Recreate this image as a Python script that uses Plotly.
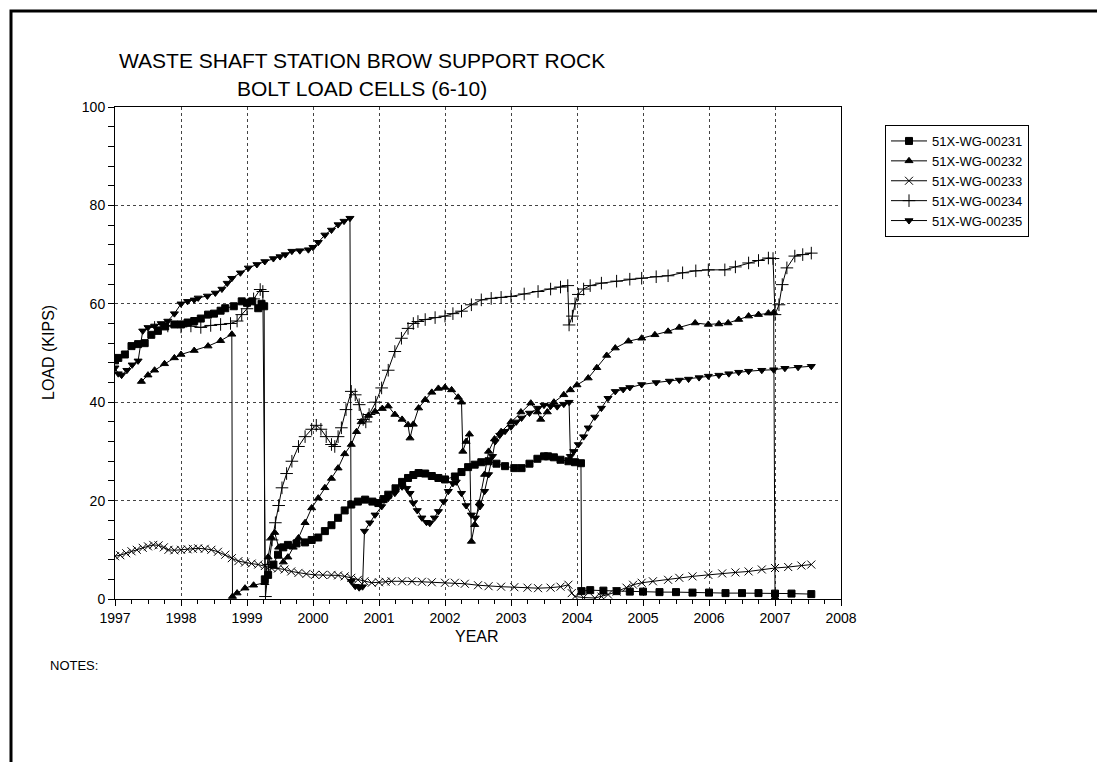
import plotly.graph_objects as go

# ---- data (decimal year, load in kips) ----
names = ["51X-WG-00231", "51X-WG-00232", "51X-WG-00233", "51X-WG-00234", "51X-WG-00235"]

s231 = [(1997.0,48.5),(1997.05,49),(1997.15,49.7),(1997.25,51.4),(1997.35,51.8),(1997.45,52),(1997.55,53.7),
        (1997.65,54.5),(1997.76,55.4),(1997.9,55.8),(1998.0,55.8),(1998.1,56.2),(1998.2,56.5),(1998.3,57),
        (1998.41,57.8),(1998.5,58),(1998.6,58.6),(1998.67,59.1),(1998.8,59.5),(1998.92,60.5),(1999.0,60.2),
        (1999.08,60.5),(1999.17,59.1),(1999.22,60),(1999.26,59.5),(1999.27,4),(1999.32,4.9),(1999.4,7),
        (1999.47,9),(1999.55,10.5),(1999.62,11),(1999.75,11.3),(1999.88,11.5),(1999.98,12),(2000.08,12.5),
        (2000.18,13.8),(2000.28,15),(2000.38,16.5),(2000.48,18),(2000.58,19.2),(2000.68,19.8),(2000.79,20.2),
        (2000.9,19.8),(2000.99,19.5),(2001.07,20.3),(2001.14,21.2),(2001.25,22.5),(2001.35,23.8),(2001.44,24.6),
        (2001.52,25.2),(2001.6,25.6),(2001.7,25.5),(2001.8,25),(2001.9,24.6),(2002.0,24.3),(2002.15,24.9),
        (2002.25,25.8),(2002.35,26.8),(2002.45,27.3),(2002.55,27.8),(2002.66,28),(2002.78,27.5),(2002.91,27),
        (2003.05,26.6),(2003.16,26.6),(2003.28,27.5),(2003.4,28.5),(2003.5,29),(2003.56,29),(2003.65,28.8),
        (2003.75,28.3),(2003.87,28),(2003.97,27.8),(2004.06,27.6),(2004.07,1.6),(2004.2,1.8),(2004.4,1.7),
        (2004.6,1.6),(2004.8,1.5),(2005.0,1.5),(2005.25,1.4),(2005.5,1.4),(2005.75,1.3),(2006.0,1.3),
        (2006.25,1.2),(2006.5,1.2),(2006.75,1.2),(2007.0,1.1),(2007.25,1.1),(2007.55,1.0)]

s232 = [(1997.4,44.2),(1997.5,45.5),(1997.6,46.5),(1997.75,47.8),(1997.9,49),(1998.0,49.7),(1998.2,50.5),
        (1998.41,51.4),(1998.6,52.5),(1998.77,53.8),(1998.78,0.5),(1998.85,1.2),(1998.97,2.2),(1999.1,2.8),
        (1999.27,3.3),(1999.32,8.5),(1999.37,12.5),(1999.42,13.5),(1999.48,10.5),(1999.55,7.5),(1999.62,8.5),
        (1999.7,10.5),(1999.78,12.4),(1999.88,15.5),(1999.98,18.5),(2000.08,20.5),(2000.18,22.6),(2000.28,24.5),
        (2000.38,26.6),(2000.48,29.5),(2000.58,31.4),(2000.66,34),(2000.73,36),(2000.84,37.3),(2000.94,38.1),
        (2001.05,38.7),(2001.14,39.2),(2001.24,37.5),(2001.35,36.5),(2001.44,35.4),(2001.47,32.7),(2001.52,35.5),
        (2001.6,38.8),(2001.7,40.5),(2001.8,42),(2001.9,42.8),(2002.0,43),(2002.1,42.5),(2002.2,41),
        (2002.25,40),(2002.27,30),(2002.32,32),(2002.37,33.5),(2002.4,11.7),(2002.45,15.1),(2002.52,19.5),
        (2002.6,25.3),(2002.66,30),(2002.75,32.5),(2002.85,34),(2003.0,36),(2003.15,38),(2003.3,39.8),
        (2003.4,38),(2003.45,36.5),(2003.55,38),(2003.65,40),(2003.8,41.5),(2003.9,42.5),(2004.0,43.5),
        (2004.17,44.9),(2004.3,47),(2004.45,49.5),(2004.58,51),(2004.78,52.4),(2004.98,53),(2005.18,53.7),
        (2005.38,54.4),(2005.55,55.2),(2005.79,56.1),(2005.99,55.8),(2006.15,55.9),(2006.29,56.1),(2006.45,56.8),
        (2006.6,57.5),(2006.75,57.8),(2006.9,58.1),(2006.98,58.2),(2007.0,0.3)]

s233 = [(1997.0,8.7),(1997.08,8.9),(1997.17,9.3),(1997.25,9.7),(1997.33,10),(1997.42,10.4),(1997.5,10.7),
        (1997.58,11),(1997.66,10.9),(1997.74,10.5),(1997.81,10),(1997.9,9.9),(1998.0,10),(1998.1,10.1),
        (1998.18,10.2),(1998.26,10.3),(1998.36,10.2),(1998.46,10),(1998.56,9.6),(1998.67,9),(1998.77,8.3),
        (1998.87,7.7),(1998.97,7.4),(1999.07,7.2),(1999.17,7),(1999.27,6.7),(1999.37,6.3),(1999.47,6.2),
        (1999.57,6),(1999.67,5.6),(1999.78,5.3),(1999.9,5.1),(2000.03,4.9),(2000.15,4.9),(2000.28,4.9),
        (2000.38,4.8),(2000.48,4.6),(2000.58,4.3),(2000.68,3.9),(2000.78,3.6),(2000.89,3.3),(2001.0,3.4),
        (2001.1,3.5),(2001.19,3.6),(2001.35,3.6),(2001.5,3.6),(2001.65,3.5),(2001.8,3.4),(2002.0,3.3),
        (2002.15,3.3),(2002.3,3.1),(2002.5,2.8),(2002.66,2.6),(2002.85,2.5),(2003.05,2.4),(2003.25,2.3),
        (2003.41,2.2),(2003.6,2.3),(2003.75,2.5),(2003.87,2.9),(2003.92,1.2),(2003.97,0.5),(2004.1,0.3),
        (2004.27,0.2),(2004.37,0.5),(2004.47,0.9),(2004.6,1.5),(2004.75,2.3),(2004.85,2.9),(2004.98,3.3),
        (2005.15,3.6),(2005.38,3.9),(2005.55,4.3),(2005.75,4.6),(2005.99,4.9),(2006.2,5.2),(2006.4,5.4),
        (2006.6,5.6),(2006.8,6),(2007.0,6.3),(2007.2,6.5),(2007.4,6.8),(2007.55,7.0)]

s234 = [(1997.6,55.2),(1997.8,55.5),(1998.0,55.3),(1998.15,55.5),(1998.3,55.2),(1998.45,55.6),(1998.6,55.8),
        (1998.75,56),(1998.85,56.5),(1998.92,57.8),(1999.0,59),(1999.1,61),(1999.2,62.9),(1999.24,62.5),
        (1999.28,0.5),(1999.33,7),(1999.38,12),(1999.43,15.5),(1999.48,19),(1999.53,22.6),(1999.6,25.5),
        (1999.68,28),(1999.78,31),(1999.88,33),(1999.98,34.5),(2000.05,35.3),(2000.12,34.5),(2000.2,33),
        (2000.28,31.4),(2000.33,31),(2000.38,33),(2000.43,34.8),(2000.5,38.5),(2000.58,42.2),(2000.64,41.5),
        (2000.7,39.5),(2000.76,36.5),(2000.8,36),(2000.85,37.5),(2000.95,40),(2001.04,42.9),(2001.14,46.5),
        (2001.24,50.3),(2001.34,53),(2001.44,55),(2001.52,56),(2001.59,56.4),(2001.7,56.8),(2001.85,57.2),
        (2002.0,57.5),(2002.12,58),(2002.25,58.5),(2002.4,59.8),(2002.55,60.8),(2002.7,61.1),(2002.85,61.3),
        (2003.0,61.5),(2003.2,62),(2003.41,62.5),(2003.6,63),(2003.75,63.4),(2003.86,63.7),(2003.88,55.7),
        (2003.93,57.5),(2003.97,60),(2004.02,61.9),(2004.1,63),(2004.2,63.7),(2004.37,64.2),(2004.6,64.6),
        (2004.8,65),(2004.98,65.2),(2005.2,65.5),(2005.38,65.7),(2005.6,66.3),(2005.8,66.7),(2005.99,66.9),
        (2006.24,66.9),(2006.4,67.5),(2006.6,68.3),(2006.75,68.8),(2006.9,69.3),(2006.97,69.2),(2007.0,57.8),
        (2007.06,59.8),(2007.11,63.9),(2007.18,67.3),(2007.3,69.7),(2007.42,70),(2007.55,70.3)]

s235 = [(1997.0,47),(1997.05,45.8),(1997.1,45.5),(1997.18,46.5),(1997.26,47.6),(1997.35,48.4),(1997.42,54.5),
        (1997.5,55.2),(1997.6,55.5),(1997.7,56),(1997.8,56.5),(1997.9,58),(1998.0,60),(1998.1,60.5),
        (1998.2,60.8),(1998.26,61.2),(1998.4,61.6),(1998.52,62.2),(1998.62,63),(1998.7,64.2),(1998.77,65.2),
        (1998.9,66.3),(1999.02,67.3),(1999.15,68),(1999.27,68.6),(1999.4,69.2),(1999.5,69.6),(1999.58,70),
        (1999.68,70.7),(1999.8,70.8),(1999.93,71),(2000.0,71.5),(2000.08,72.5),(2000.18,74),(2000.28,75),
        (2000.38,76.1),(2000.47,76.8),(2000.56,77.4),(2000.58,3.6),(2000.64,2.6),(2000.7,2.3),(2000.75,2.5),
        (2000.78,13.8),(2000.86,15.5),(2000.94,17.1),(2001.04,18.8),(2001.14,20.5),(2001.24,21.5),(2001.35,22.8),
        (2001.42,22.5),(2001.47,21.5),(2001.52,19.5),(2001.58,18),(2001.65,16.5),(2001.72,15.6),(2001.77,15.4),
        (2001.84,16.5),(2001.9,17.8),(2001.98,19.8),(2002.05,21.9),(2002.12,23.5),(2002.17,23.8),(2002.25,21.5),
        (2002.32,19),(2002.4,17.1),(2002.46,16.5),(2002.53,18.8),(2002.6,21.9),(2002.66,25.3),(2002.72,29),
        (2002.76,32),(2002.83,33.3),(2002.91,34.1),(2003.0,35),(2003.08,36),(2003.16,36.8),(2003.28,37.8),
        (2003.41,38.8),(2003.5,39.4),(2003.6,39.2),(2003.7,39.1),(2003.8,39.6),(2003.88,40),(2003.9,29),
        (2003.95,30),(2004.02,31.4),(2004.1,33),(2004.17,34.8),(2004.27,37),(2004.37,38.8),(2004.47,40.8),
        (2004.58,42.2),(2004.7,42.6),(2004.8,43),(2004.98,43.6),(2005.2,44),(2005.4,44.3),(2005.55,44.5),
        (2005.69,44.7),(2005.85,45),(2005.99,45.3),(2006.15,45.5),(2006.3,45.8),(2006.45,46.1),(2006.6,46.3),
        (2006.8,46.5),(2006.98,46.6),(2007.15,46.9),(2007.35,47.1),(2007.55,47.3)]

series = [s231, s232, s233, s234, s235]
symbols = ["square", "triangle-up", "x-thin-open", "cross-thin-open", "triangle-down"]
msizes = [7, 7, 8, 9, 7]

title_lines = ["WASTE SHAFT STATION BROW SUPPORT ROCK", "BOLT LOAD CELLS (6-10)"]
x_title = "YEAR"
y_title = "LOAD (KIPS)"
notes = "NOTES:"

# ---- layout geometry (pixels) ----
W, H = 1105, 762
L, R, T, B = 107, 833, 99, 591
pw, ph = R - L, B - T
px = lambda x: (x - L) / pw
py = lambda y: (B - y) / ph
FONT = "Liberation Sans, Arial, sans-serif"

fig = go.Figure()
for nm, s, sym, ms in zip(names, series, symbols, msizes):
    fig.add_trace(go.Scatter(
        x=[p[0] for p in s], y=[p[1] for p in s], name=nm, mode="lines+markers",
        line=dict(color="black", width=1),
        marker=dict(symbol=sym, size=ms, color="black", line=dict(color="black", width=1)),
    ))

axis_common = dict(showline=True, linecolor="black", linewidth=1, mirror=True,
                   showgrid=True, gridcolor="#444444", griddash="dot", gridwidth=1,
                   ticks="outside", tickcolor="black", zeroline=False,
                   tickfont=dict(family=FONT, size=14, color="black"))

fig.update_layout(
    width=W, height=H, paper_bgcolor="white", plot_bgcolor="white",
    margin=dict(l=L, r=W - R, t=T, b=H - B, pad=0),
    font=dict(family=FONT, color="black"),
    xaxis=dict(range=[1997, 2008], tick0=1997, dtick=1, ticklen=6,
               minor=dict(dtick=0.25, ticks="outside", ticklen=4, tickcolor="black", showgrid=False),
               **axis_common),
    yaxis=dict(range=[0, 100], tick0=0, dtick=20, ticklen=6,
               minor=dict(dtick=4, ticks="outside", ticklen=6, tickcolor="black", showgrid=False),
               **axis_common),
    showlegend=True,
    legend=dict(x=px(877), y=py(117), xanchor="left", yanchor="top",
                bgcolor="white", bordercolor="black", borderwidth=1,
                font=dict(family=FONT, size=13, color="black"), tracegroupgap=0,
                itemwidth=36),
)

ann = [
    dict(text=title_lines[0], x=px(354), y=py(52), font_size=21),
    dict(text=title_lines[1], x=px(354), y=py(80), font_size=21),
    dict(text=x_title, x=px(469), y=py(628), font_size=16),
    dict(text=y_title, x=px(40), y=py(345), font_size=16, textangle=-90),
    dict(text=notes, x=px(40), y=py(657), font_size=13, xanchor="left"),
]
for a in ann:
    a.setdefault("xanchor", "center")
    fig.add_annotation(xref="paper", yref="paper", yanchor="middle", showarrow=False,
                       font=dict(family=FONT, color="black", size=a.pop("font_size")), **a)

# outer page frame
fig.add_shape(type="rect", xref="paper", yref="paper",
              x0=px(3), x1=px(1103), y0=py(775), y1=py(3),
              line=dict(color="black", width=3), layer="above")

fig.write_html("out.html")
